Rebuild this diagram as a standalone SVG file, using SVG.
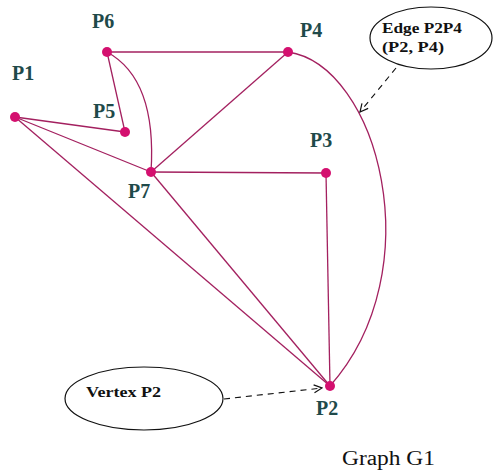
<svg xmlns="http://www.w3.org/2000/svg" width="494" height="470" viewBox="0 0 494 470">
<defs>
<style>
.e{fill:none;stroke:#a3205f;stroke-width:1.3}
.n{fill:#d4106f}
.lbl{font-family:"Liberation Serif",serif;font-weight:bold;font-size:20px;fill:#1f4a4a}
.note{font-family:"Liberation Serif",serif;font-weight:bold;font-size:15px;fill:#111}
.bub{fill:none;stroke:#111;stroke-width:1.2}
.dash{fill:none;stroke:#111;stroke-width:1.1;stroke-dasharray:6,5}
</style>
<marker id="ah" viewBox="0 0 10 10" refX="9" refY="5" markerWidth="10" markerHeight="10" markerUnits="userSpaceOnUse" orient="auto">
<path d="M1,1 L9,5 L1,9" fill="none" stroke="#111" stroke-width="1.2"/>
</marker>
</defs>
<rect width="494" height="470" fill="#fff"/>
<g id="connectors">
<line class="e" x1="107" y1="52" x2="288" y2="52"/>
<line class="e" x1="107" y1="52" x2="125" y2="132"/>
<path class="e" d="M107,52 C140,70 155,110 151,172"/>
<line class="e" x1="15" y1="117" x2="125" y2="132"/>
<line class="e" x1="15" y1="117" x2="151" y2="172"/>
<line class="e" x1="15" y1="117" x2="330" y2="386"/>
<line class="e" x1="151" y1="172" x2="288" y2="52"/>
<line class="e" x1="151" y1="172" x2="326" y2="173"/>
<line class="e" x1="151" y1="172" x2="330" y2="386"/>
<line class="e" x1="326" y1="173" x2="330" y2="386"/>
<path class="e" d="M288,52 C378,65 433,270 330,386"/>
</g>
<g id="P1"><circle class="n" cx="15" cy="117" r="5"/><text class="lbl" x="12" y="80">P1</text></g>
<g id="P2"><circle class="n" cx="330" cy="386" r="5"/><text class="lbl" x="316" y="415">P2</text></g>
<g id="P3"><circle class="n" cx="326" cy="173" r="5"/><text class="lbl" x="310" y="147">P3</text></g>
<g id="P4"><circle class="n" cx="288" cy="52" r="5"/><text class="lbl" x="300" y="37">P4</text></g>
<g id="P5"><circle class="n" cx="125" cy="132" r="5"/><text class="lbl" x="93" y="118">P5</text></g>
<g id="P6"><circle class="n" cx="107" cy="52" r="5"/><text class="lbl" x="92" y="28">P6</text></g>
<g id="P7"><circle class="n" cx="151" cy="172" r="5"/><text class="lbl" x="128" y="198">P7</text></g>
<g id="noteEdge">
<ellipse class="bub" cx="431" cy="38" rx="61" ry="31"/>
<text class="note" x="382" y="33" textLength="80" lengthAdjust="spacingAndGlyphs">Edge P2P4</text>
<text class="note" x="382" y="52" textLength="62" lengthAdjust="spacingAndGlyphs">(P2, P4)</text>
<line class="dash" x1="396" y1="68" x2="360" y2="112" marker-end="url(#ah)"/>
</g>
<g id="noteVertex">
<ellipse class="bub" cx="144" cy="398.5" rx="79" ry="31.5"/>
<text class="note" x="86" y="397" textLength="75" lengthAdjust="spacingAndGlyphs">Vertex P2</text>
<line class="dash" x1="224" y1="399" x2="322" y2="388" marker-end="url(#ah)"/>
</g>
<text x="342" y="465" font-family="Liberation Serif,serif" font-size="20" fill="#111" textLength="93" lengthAdjust="spacingAndGlyphs">Graph G1</text>
</svg>
